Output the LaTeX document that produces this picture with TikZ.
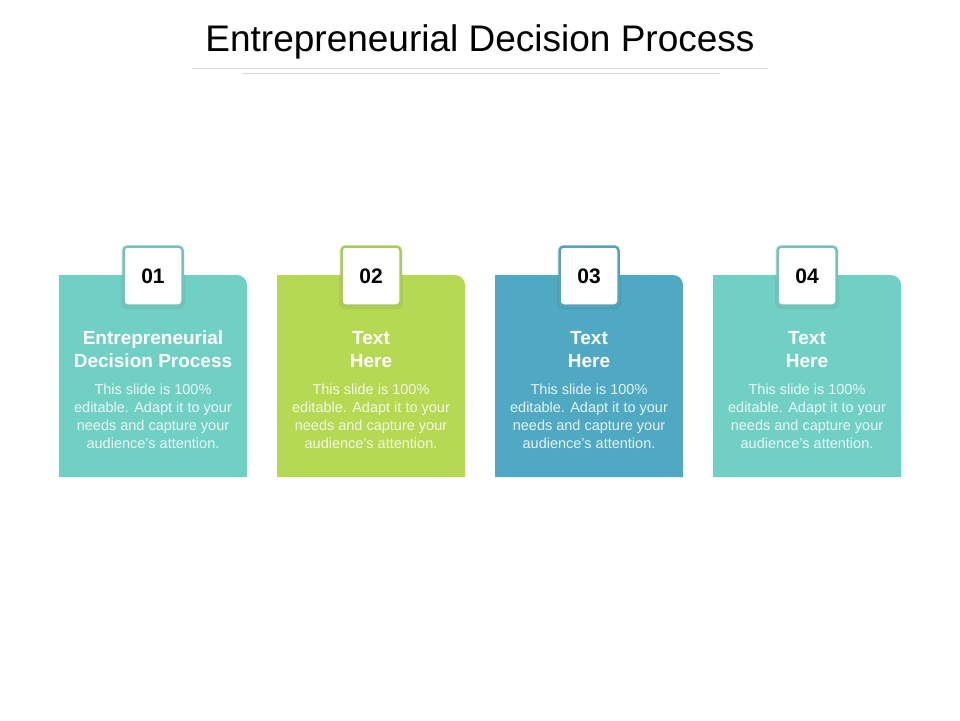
\documentclass[tikz,border=0pt]{standalone}
\usepackage{fontspec}
\setmainfont{Liberation Sans}
\definecolor{cteal}{HTML}{70D0C4}
\definecolor{cgreen}{HTML}{B5D952}
\definecolor{cblue}{HTML}{4FA9C2}
\definecolor{rulegray}{HTML}{D9D9D9}
\tikzset{
  titletext/.style={font=\fontsize{37}{44}\selectfont, text=black, inner sep=0pt},
  headtext/.style={font=\bfseries\fontsize{19}{23}\selectfont, text=white, align=center, inner sep=0pt},
  bodytext/.style={font=\fontsize{14.5}{18}\selectfont, align=center, inner sep=0pt},
  numbox/.style={draw=#1, line width=2.5pt, fill=white, rounded corners=4pt, minimum width=59pt, minimum height=59pt, inner sep=0pt, font=\bfseries\fontsize{21}{25}\selectfont, text=black},
}
\begin{document}
\begin{tikzpicture}[x=1pt,y=-1pt]
\useasboundingbox (0,0) rectangle (960,720);
\fill[white] (0,0) rectangle (960,720);
\node[titletext, anchor=base] (title) at (480,51) {Entrepreneurial Decision Process};
\draw[rulegray, line width=0.8pt] (192,68) -- (768,68);
\draw[rulegray, line width=0.8pt] (242,73) -- (720,73);
\foreach \i/\c/\n/\h in {0/cteal/01/{Entrepreneurial\\Decision Process},1/cgreen/02/{Text\\Here},2/cblue/03/{Text\\Here},3/cteal/04/{Text\\Here}}{
  \pgfmathsetmacro{\xl}{59+218*\i}
  \pgfmathsetmacro{\xr}{\xl+188}
  \pgfmathsetmacro{\xc}{\xl+94}
  \fill[\c, rounded corners=10pt] (\xl,477) [sharp corners] -- (\xl,275) [rounded corners=10pt] -- (\xr,275) [sharp corners] -- (\xr,477) -- cycle;
  \fill[black, opacity=0.05, rounded corners=5pt] (\xc-32,246) rectangle (\xc+32,309);
  \node[numbox=\c!90!black!90] (num\i) at (\xc,276) {\n};
  \node[headtext] (head\i) at (\xc,349.5) {\h};
  \node[bodytext, text=white!85!\c] (body\i) at (\xc,416.5) {This slide is 100\%\\editable. Adapt it to your\\needs and capture your\\audience's attention.};
}
\end{tikzpicture}
\end{document}
